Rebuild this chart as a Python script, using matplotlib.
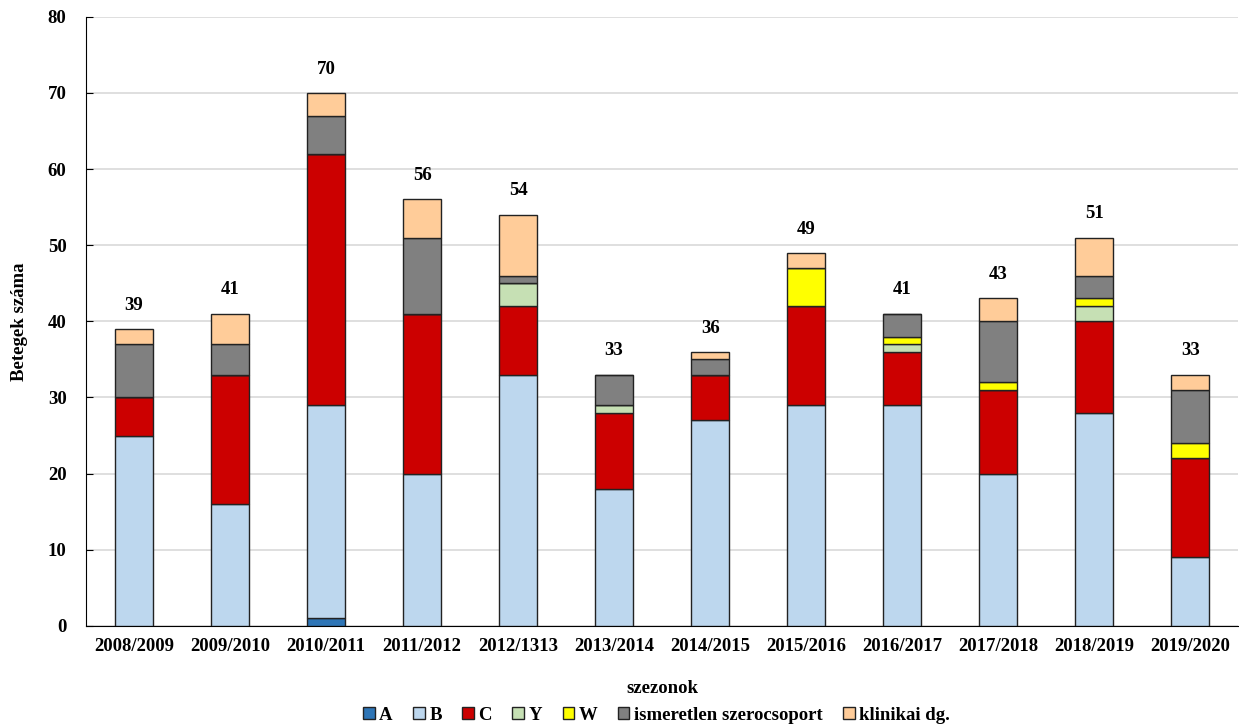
import matplotlib.pyplot as plt
import numpy as np

plt.rcParams['font.family'] = ['Liberation Serif', 'DejaVu Serif']
plt.rcParams['font.weight'] = 'bold'

seasons = ['2008/2009', '2009/2010', '2010/2011', '2011/2012', '2012/1313', '2013/2014',
           '2014/2015', '2015/2016', '2016/2017', '2017/2018', '2018/2019', '2019/2020']

A = [0, 0, 1, 0, 0, 0, 0, 0, 0, 0, 0, 0]
B = [25, 16, 28, 20, 33, 18, 27, 29, 29, 20, 28, 9]
C = [5, 17, 33, 21, 9, 10, 6, 13, 7, 11, 12, 13]
Y = [0, 0, 0, 0, 3, 1, 0, 0, 1, 0, 2, 0]
W = [0, 0, 0, 0, 0, 0, 0, 5, 1, 1, 1, 2]
ismeretlen = [7, 4, 5, 10, 1, 4, 2, 0, 3, 8, 3, 7]
klinikai = [2, 4, 3, 5, 8, 0, 1, 2, 0, 3, 5, 2]

series = [('A', A, '#2e75b6'), ('B', B, '#bdd7ee'), ('C', C, '#cc0000'),
          ('Y', Y, '#c6e0b4'), ('W', W, '#ffff00'),
          ('ismeretlen szerocsoport', ismeretlen, '#808080'),
          ('klinikai dg.', klinikai, '#ffcc99')]

fig = plt.figure(figsize=(12.39, 7.27), dpi=100)
ax = fig.add_axes([0.0694, 0.139, 0.93, 0.838])

x = np.arange(len(seasons))
bottom = np.zeros(len(seasons))
for name, vals, col in series:
    vals = np.array(vals, dtype=float)
    ax.bar(x, vals, 0.4, bottom=bottom, color=col, edgecolor='#222222',
           linewidth=1.0, label=name, zorder=3)
    bottom += vals

for xi, tot in zip(x, bottom):
    ax.annotate(str(int(tot)), (xi, tot), xytext=(0, 11), textcoords='offset points',
                ha='center', va='bottom', fontsize=13.5, fontweight='bold')

ax.set_xlim(-0.5, len(seasons) - 0.5)
ax.set_ylim(0, 80)
ax.set_yticks(range(0, 81, 10))
ax.set_xticks(x)
ax.set_xticklabels(seasons)
ax.tick_params(axis='both', labelsize=13.5)
ax.tick_params(axis='x', length=0, pad=9)
ax.tick_params(axis='y', direction='in', length=5, pad=14)
ax.yaxis.grid(True, color='#d9d9d9', linewidth=1.2, zorder=0)
ax.spines['top'].set_visible(False)
ax.spines['right'].set_visible(False)
ax.set_ylabel('Betegek száma', fontsize=13.5, fontweight='bold', labelpad=14)
ax.set_xlabel('szezonok', fontsize=13.5, fontweight='bold', labelpad=18)

fig.legend(*ax.get_legend_handles_labels(), loc='center', bbox_to_anchor=(0.53, 0.016),
           ncol=7, frameon=False, fontsize=13.5, handlelength=0.6, handleheight=0.6,
           handletextpad=0.25, columnspacing=1.1, borderpad=0)

fig.savefig('out.png', dpi=100)
